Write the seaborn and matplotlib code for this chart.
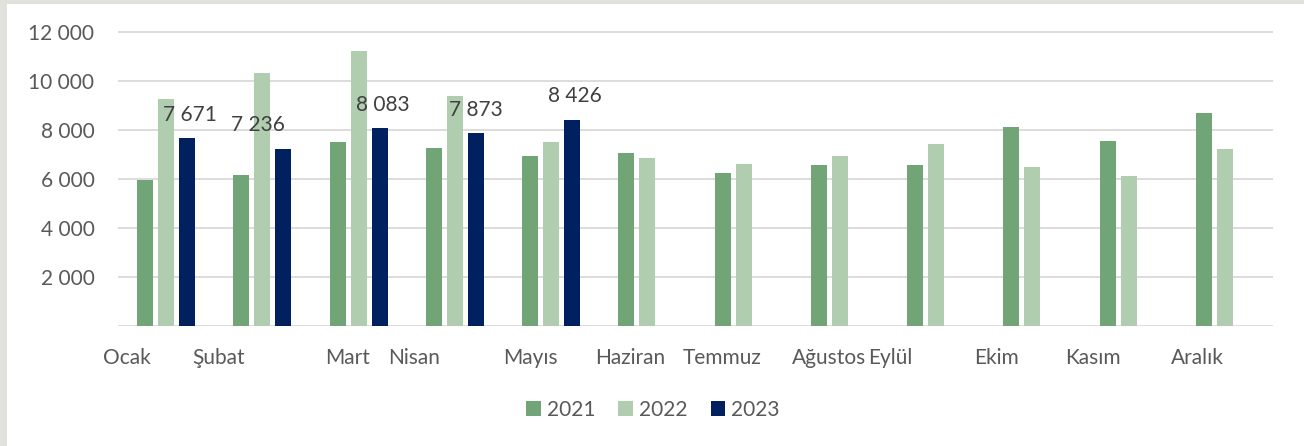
import numpy as np
import pandas as pd
import matplotlib
matplotlib.use("Agg")
import matplotlib.pyplot as plt
import seaborn as sns
from matplotlib.patches import Rectangle

# data
months = ["Ocak", "Şubat", "Mart", "Nisan", "Mayıs", "Haziran",
          "Temmuz", "Ağustos", "Eylül", "Ekim", "Kasım", "Aralık"]
years = ["2021", "2022", "2023"]
v2021 = [5950, 6160, 7510, 7260, 6950, 7060, 6270, 6580, 6580, 8120, 7550, 8690]
v2022 = [9260, 10330, 11240, 9410, 7530, 6880, 6620, 6940, 7420, 6490, 6140, 7220]
v2023 = [7671, 7236, 8083, 7873, 8426]

colors = ["#71A476", "#B0CDB0", "#002060"]
grey = "#595959"

# long table for seaborn
df = pd.DataFrame({
    "month": months * 3,
    "year": ["2021"] * 12 + ["2022"] * 12 + ["2023"] * 12,
    "value": v2021 + v2022 + v2023 + [np.nan] * 7,
})

sns.set_theme(style="white")
plt.rcParams['font.family'] = ['Lato', 'DejaVu Sans']

fig = plt.figure(figsize=(13.04, 4.46), dpi=100)
fig.patch.set_facecolor("#E2E2DD")
fig.patches.append(Rectangle((7 / 1304, 0), 1, 1 - 4 / 446, transform=fig.transFigure,
                             facecolor="white", edgecolor="none", zorder=-10))

ax = fig.add_axes([118 / 1304, 120 / 446, 1155 / 1304, 296.1 / 446])
ax.set_facecolor("none")

sns.barplot(data=df, x="month", y="value", hue="year", order=months, hue_order=years,
            palette=colors, width=0.655, gap=0.24, errorbar=None, saturation=1,
            linewidth=0, ax=ax)

ax.set_ylim(0, 12100)
ax.set_xlim(-0.5, 11.5)
ax.set_yticks(range(0, 12001, 2000))
ax.set_yticklabels([""] + [f"{t:,}".replace(",", " ") for t in range(2000, 12001, 2000)])
ax.yaxis.grid(True, color="#D9D9D9", linewidth=1.3)
ax.set_axisbelow(True)
for s in ax.spines.values():
    s.set_visible(False)

# month labels sit a bit off-centre in the original
label_shift = [-0.41, -0.45, -0.12, -0.42, -0.21, -0.18, -0.22, -0.11, -0.48, -0.37, -0.37, -0.29]
ax.set_xticks([i + d for i, d in enumerate(label_shift)])
ax.set_xticklabels(months)
ax.tick_params(axis="x", length=0, pad=16, labelsize=15, labelcolor=grey)
ax.tick_params(axis="y", length=0, pad=17, labelsize=15, labelcolor=grey)
ax.set_xlabel("")
ax.set_ylabel("")

# value labels on 2023 bars
label_dx = [2, -18, 2, 0, 2]
for bar, v, dx in zip(ax.containers[2], v2023, label_dx):
    ax.annotate(f"{v:,}".replace(",", " "),
                (bar.get_x() + bar.get_width() / 2, bar.get_height()),
                xytext=(dx, 17), textcoords="offset points",
                ha="center", va="center", fontsize=15, color="#404040")

ax.legend_.remove()
handles = [Rectangle((0, 0), 1, 1, facecolor=c, edgecolor="none") for c in colors]
fig.legend(handles, years, loc="center", bbox_to_anchor=(653 / 1304, 1 - 410 / 446),
           ncol=3, frameon=False, fontsize=15, labelcolor=grey,
           handlelength=0.7, handleheight=0.7, handletextpad=0.3, columnspacing=1.1)

fig.savefig("out.png", dpi=100)
